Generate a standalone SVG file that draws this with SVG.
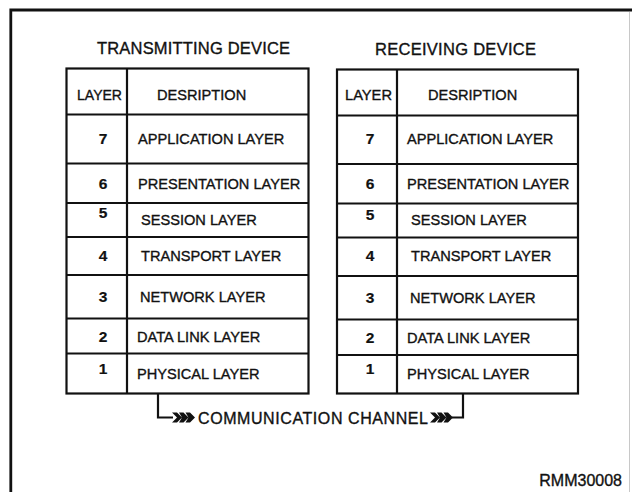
<svg xmlns="http://www.w3.org/2000/svg" width="632" height="492" viewBox="0 0 632 492">
<style>
.t{font-family:"Liberation Sans",Arial,sans-serif;fill:#111;stroke:#111;stroke-width:0.35;}
.title{font-size:16.5px;}
.cell{font-size:14.6px;}
.num{font-size:15.5px;font-weight:bold;text-anchor:middle;stroke-width:0.2;}
.ln{stroke:#111;stroke-width:2.2;fill:none;}
.frame{stroke:#111;stroke-width:2.8;fill:none;}
</style>
<defs>
<symbol id="chev" viewBox="0 0 24 10" width="24" height="10" overflow="visible">
<path d="M0,0 L5,0 L10,5 L5,10 L0,10 L5,5 Z M7,0 L11.5,0 L16.5,5 L11.5,10 L7,10 L10,5 Z M13.5,0 L18,0 L23,5 L18,10 L13.5,10 L16.5,5 Z" fill="#111"/>
</symbol>
</defs>
<rect width="632" height="492" fill="#fff"/>
<g id="frame">
<path class="frame" d="M10.8,492 V10 H632"/>
<path d="M629.5,12 V492" stroke="#c8c8c8" stroke-width="1" fill="none"/>
</g>

<g id="transmitting-device">
<text class="t title" x="97" y="54" textLength="193" lengthAdjust="spacing">TRANSMITTING DEVICE</text>
<g id="tx-table">
<rect class="ln" x="66.5" y="68.5" width="242" height="325"/>
<path class="ln" d="M127,68.5 V393.5 M66.5,114.5 H308.5 M66.5,163.5 H308.5 M66.5,203 H308.5 M66.5,237 H308.5 M66.5,275 H308.5 M66.5,318.5 H308.5 M66.5,353.5 H308.5"/>
</g>
<g id="tx-header"><text class="t cell" x="77" y="99.5" textLength="45" lengthAdjust="spacingAndGlyphs">LAYER</text><text class="t cell" x="157" y="99.5">DESRIPTION</text></g>
<g id="tx-layer7"><text class="t num" x="103" y="144">7</text><text class="t cell" x="138" y="144">APPLICATION LAYER</text></g>
<g id="tx-layer6"><text class="t num" x="103" y="188.5">6</text><text class="t cell" x="138" y="188.5">PRESENTATION LAYER</text></g>
<g id="tx-layer5"><text class="t num" x="103" y="218">5</text><text class="t cell" x="141" y="225">SESSION LAYER</text></g>
<g id="tx-layer4"><text class="t num" x="103" y="260.7">4</text><text class="t cell" x="141" y="260.7">TRANSPORT LAYER</text></g>
<g id="tx-layer3"><text class="t num" x="103" y="301.7">3</text><text class="t cell" x="140" y="301.7">NETWORK LAYER</text></g>
<g id="tx-layer2"><text class="t num" x="103" y="341.7">2</text><text class="t cell" x="137" y="341.7">DATA LINK LAYER</text></g>
<g id="tx-layer1"><text class="t num" x="103" y="374">1</text><text class="t cell" x="137" y="378.5">PHYSICAL LAYER</text></g>
</g>

<g id="receiving-device">
<text class="t title" x="375" y="55" textLength="161" lengthAdjust="spacing">RECEIVING DEVICE</text>
<g id="rx-table">
<rect class="ln" x="337" y="69.5" width="241" height="324"/>
<path class="ln" d="M397,69.5 V393.5 M337,115.5 H578 M337,164 H578 M337,203.5 H578 M337,237.5 H578 M337,276 H578 M337,319.5 H578 M337,355 H578"/>
</g>
<g id="rx-header"><text class="t cell" x="345" y="100" textLength="47" lengthAdjust="spacingAndGlyphs">LAYER</text><text class="t cell" x="428" y="100">DESRIPTION</text></g>
<g id="rx-layer7"><text class="t num" x="370" y="144">7</text><text class="t cell" x="407" y="144">APPLICATION LAYER</text></g>
<g id="rx-layer6"><text class="t num" x="370" y="189">6</text><text class="t cell" x="407" y="189">PRESENTATION LAYER</text></g>
<g id="rx-layer5"><text class="t num" x="370" y="220">5</text><text class="t cell" x="411" y="225">SESSION LAYER</text></g>
<g id="rx-layer4"><text class="t num" x="370" y="260.7">4</text><text class="t cell" x="411" y="260.7">TRANSPORT LAYER</text></g>
<g id="rx-layer3"><text class="t num" x="370" y="303.3">3</text><text class="t cell" x="410" y="303.3">NETWORK LAYER</text></g>
<g id="rx-layer2"><text class="t num" x="370" y="343">2</text><text class="t cell" x="407" y="343">DATA LINK LAYER</text></g>
<g id="rx-layer1"><text class="t num" x="370" y="373.5">1</text><text class="t cell" x="407" y="379.3">PHYSICAL LAYER</text></g>
</g>

<g id="connectors">
<path class="ln" d="M158,393.5 V417.5 H173"/>
<path class="ln" d="M452,417.5 H463 V393.5"/>
<use href="#chev" x="172" y="412.5"/>
<use href="#chev" x="430" y="412.5"/>
<text class="t" x="198" y="424" font-size="16" textLength="230" lengthAdjust="spacing">COMMUNICATION CHANNEL</text>
</g>

<text class="t" x="622" y="486" font-size="16" text-anchor="end">RMM30008</text>
</svg>
